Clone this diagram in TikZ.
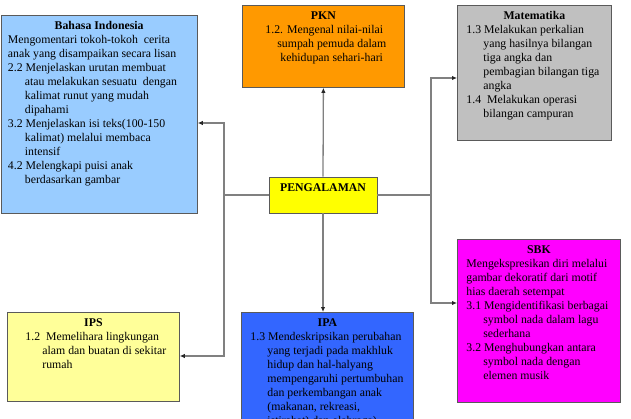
\documentclass[tikz,border=0pt]{standalone}
\usepackage{fontspec}
\setmainfont{Liberation Serif}
\usetikzlibrary{arrows.meta}
\definecolor{cBI}{HTML}{99CCFF}
\definecolor{cPKN}{HTML}{FF9900}
\definecolor{cMAT}{HTML}{C0C0C0}
\definecolor{cPG}{HTML}{FFFF00}
\definecolor{cIPS}{HTML}{FFFF99}
\definecolor{cIPA}{HTML}{3366FF}
\definecolor{cSBK}{HTML}{FF00FF}
\definecolor{boxline}{HTML}{5A5A5A}
\definecolor{lineg}{HTML}{808080}
\newcommand{\bxc}[4]{\begin{minipage}[t][#2][t]{#1}\fontsize{11.8}{14}\selectfont\parindent0pt\centering\rule{0pt}{14pt}\textbf{#3}\par\raggedright #4\end{minipage}}
\tikzset{
  box/.style={draw=boxline, line width=0.8pt, inner sep=0pt, anchor=north west},
  conn/.style={draw=lineg, line width=1.3pt},
  arr/.style={conn, -{Latex[length=5pt,width=4.5pt,color=black!85]}},
}
\begin{document}
\begin{tikzpicture}[x=1pt,y=-1pt]
\useasboundingbox (0,0) rectangle (631,419);
\node[box, fill=cBI] (bi) at (0.5,14.7) {\bxc{196.5pt}{198pt}{Bahasa Indonesia}{%
\hspace*{7pt}Mengomentari tokoh-tokoh\ \ cerita\\
\hspace*{7pt}anak yang disampaikan secara lisan\\
\hspace*{7pt}2.2 Menjelaskan urutan membuat\\
\hspace*{24pt}atau melakukan sesuatu\ \ dengan\\
\hspace*{24pt}kalimat runut yang mudah\\
\hspace*{24pt}dipahami\\
\hspace*{7pt}3.2 Menjelaskan isi teks(100-150\\
\hspace*{24pt}kalimat) melalui membaca\\
\hspace*{24pt}intensif\\
\hspace*{7pt}4.2 Melengkapi puisi anak\\
\hspace*{24pt}berdasarkan gambar}};
\node[box, fill=cPKN] (pkn) at (242,5) {\bxc{162pt}{82pt}{PKN}{%
\hspace*{23pt}1.2. Mengenal nilai-nilai\\
\hspace*{35pt}sumpah pemuda dalam\\
\hspace*{38pt}kehidupan sehari-hari}};
\node[box, fill=cMAT] (mat) at (457,5) {\bxc{154pt}{135pt}{Matematika}{%
\hspace*{9pt}1.3 Melakukan perkalian\\
\hspace*{26pt}yang hasilnya bilangan\\
\hspace*{26pt}tiga angka dan\\
\hspace*{26pt}pembagian bilangan tiga\\
\hspace*{26pt}angka\\
\hspace*{9pt}1.4\ \ Melakukan operasi\\
\hspace*{26pt}bilangan campuran}};
\node[box, fill=cIPS] (ips) at (7,312) {\bxc{172pt}{89pt}{IPS}{%
\hspace*{18pt}1.2\ \ Memelihara lingkungan\\
\hspace*{35pt}alam dan buatan di sekitar\\
\hspace*{35pt}rumah}};
\node[box, fill=cIPA] (ipa) at (241,312) {\bxc{172pt}{130pt}{IPA}{%
\hspace*{9pt}1.3 Mendeskripsikan perubahan\\
\hspace*{26pt}yang terjadi pada makhluk\\
\hspace*{26pt}hidup dan hal-halyang\\
\hspace*{26pt}mempengaruhi pertumbuhan\\
\hspace*{26pt}dan perkembangan anak\\
\hspace*{26pt}(makanan, rekreasi,\\
\hspace*{26pt}istirahat) dan olahraga)}};
\node[box, fill=cSBK] (sbk) at (457,239) {\bxc{163pt}{163pt}{SBK}{%
\hspace*{9pt}Mengekspresikan diri melalui\\
\hspace*{9pt}gambar dekoratif dari motif\\
\hspace*{9pt}hias daerah setempat\\
\hspace*{9pt}3.1 Mengidentifikasi berbagai\\
\hspace*{26pt}symbol nada dalam lagu\\
\hspace*{26pt}sederhana\\
\hspace*{9pt}3.2 Menghubungkan antara\\
\hspace*{26pt}symbol nada dengan\\
\hspace*{26pt}elemen musik}};
\node[draw=boxline, line width=0.8pt, fill=cPG, minimum width=108pt, minimum height=36pt, inner sep=0pt, text height=8pt, text depth=14pt, font=\fontsize{11.8}{14}\selectfont\bfseries] (pg) at (323,195) {PENGALAMAN};
\coordinate (L) at (224,195);
\coordinate (LT) at (224,123);
\coordinate (LB) at (224,356);
\coordinate (R) at (431,195);
\coordinate (RT) at (431,78);
\coordinate (RB) at (431,303);
\draw[arr] (pg.north) -- (pkn.south);
\draw[arr] (pg.south) -- (pg.south |- ipa.north);
\draw[conn] (pg.west) -- (L);
\draw[conn] (pg.east) -- (R);
\draw[arr] (L) -- (LT) -- (LT -| bi.east);
\draw[arr] (L) -- (LB) -- (LB -| ips.east);
\draw[arr] (R) -- (RT) -- (RT -| mat.west);
\draw[arr] (R) -- (RB) -- (RB -| sbk.west);
\end{tikzpicture}
\end{document}
